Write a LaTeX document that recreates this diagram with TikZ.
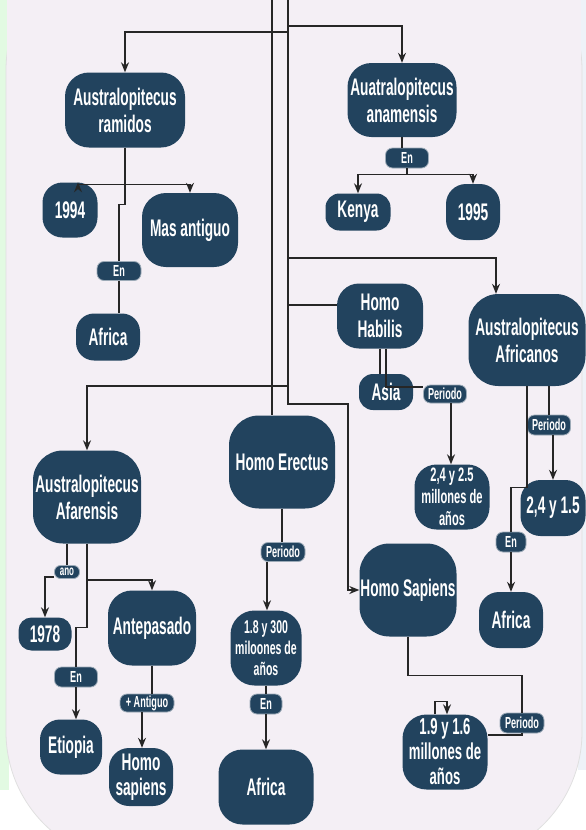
\documentclass[tikz,border=0pt]{standalone}
\usepackage{fontspec}
\setmainfont{Liberation Sans}[FakeStretch=0.57]
\usetikzlibrary{arrows.meta}
\definecolor{nodeblue}{HTML}{22435E}
\definecolor{paper}{HTML}{F4EFF5}
\definecolor{edgegreen}{HTML}{E2FAE2}
\definecolor{edgeblue}{HTML}{EEF2F8}
\tikzset{
  concept/.style={fill=nodeblue,text=white,rounded corners=24pt,align=center,inner sep=0pt,
    font=\fontsize{24}{27}\selectfont\bfseries},
  tag/.style={fill=nodeblue,text=white,rounded corners=7pt,draw=nodeblue!45,line width=0.8pt,
    inner sep=0pt,minimum height=19pt,font=\fontsize{16}{16}\selectfont\bfseries},
  sz/.style 2 args={minimum width=#1pt,minimum height=#2pt},
  link/.style={draw=black!85,line width=1.3pt},
  tip/.style={-{Stealth[length=10pt,width=8pt]}}
}
\begin{document}
\begin{tikzpicture}[x=1pt,y=-1pt]
\useasboundingbox (0,0) rectangle (586,830);
% background
\fill[white] (0,0) rectangle (586,830);
\fill[edgegreen] (0,0) rectangle (9,790);
\fill[edgeblue] (578,0) rectangle (586,770);
\filldraw[fill=paper,draw=black!12,line width=0.8pt,rounded corners=130pt] (6,-60) rectangle (582,862);
\fill[paper] (7,-10) rectangle (581,100);

\coordinate (trunkL) at (272,0);
\coordinate (trunkR) at (288,0);

\node[concept,sz={120}{75}] (ramidos) at (125,110) {Australopitecus\\ramidos};
\node[concept,sz={109}{74}] (anamensis) at (402,100) {Auatralopitecus\\anamensis};
\node[tag,sz={43}{20}] (enA) at (407,158) {En};
\node[concept,sz={65}{37},rounded corners=14pt] (kenya) at (358,212) {Kenya};
\node[concept,sz={54}{56},rounded corners=20pt] (y1995) at (473,212) {1995};
\node[concept,sz={55}{55},rounded corners=20pt] (y1994) at (70,210) {1994};
\node[concept,sz={96}{74}] (masant) at (190,230) {Mas antiguo};
\node[tag,sz={44}{19}] (enR) at (119,271) {En};
\node[concept,sz={64}{47},rounded corners=18pt] (africaR) at (108,337) {Africa};

\node[concept,sz={86}{65},rounded corners=22pt] (habilis) at (380,316) {Homo\\Habilis};
\node[concept,sz={117}{92},rounded corners=30pt] (africanos) at (527,340) {Australopitecus\\Africanos};
\node[concept,sz={54}{36},rounded corners=14pt] (asia) at (386,392) {Asia};
\node[tag,sz={43}{18}] (perH) at (445,394) {Periodo};
\node[tag,sz={43}{20}] (perA) at (549,425) {Periodo};
\node[concept,sz={75}{65},rounded corners=22pt,font=\fontsize{19.5}{22}\selectfont\bfseries] (dosH) at (452,497) {2,4 y 2.5\\millones de\\años};
\node[concept,sz={65}{56},rounded corners=20pt] (dosA) at (553,508) {2,4 y 1.5};
\node[tag,sz={30}{20}] (enAf) at (511,542) {En};
\node[concept,sz={64}{56},rounded corners=20pt] (africaA) at (511,620) {Africa};

\node[concept,sz={108}{93},rounded corners=30pt] (afarensis) at (87,497) {Australopitecus\\Afarensis};
\node[concept,sz={106}{93},rounded corners=30pt] (erectus) at (282,462) {Homo Erectus};
\node[tag,sz={44}{19}] (perE) at (283,552) {Periodo};
\node[concept,sz={97}{93},rounded corners=30pt] (sapiens) at (408,590) {Homo Sapiens};
\node[concept,sz={71}{75},rounded corners=24pt,font=\fontsize{18.5}{21}\selectfont\bfseries] (unoE) at (266,648) {1.8 y 300\\miloones de\\años};
\node[tag,sz={32}{20}] (enE) at (266,704) {En};
\node[concept,sz={95}{75}] (africaE) at (266,787) {Africa};

\node[tag,sz={25}{13},rounded corners=6pt,font=\fontsize{14}{14}\selectfont\bfseries] (ano) at (67,572) {ano};
\node[concept,sz={53}{33},rounded corners=13pt] (y1978) at (45,634) {1978};
\node[concept,sz={88}{75}] (antep) at (152,628) {Antepasado};
\node[tag,sz={43}{20}] (enF) at (76,677) {En};
\node[tag,sz={54}{18}] (antig) at (147,703) {+ Antiguo};
\node[concept,sz={62}{55},rounded corners=20pt] (etiopia) at (71,747) {Etiopia};
\node[concept,sz={64}{58},rounded corners=20pt,font=\fontsize{24}{25}\selectfont\bfseries] (hsap) at (141,777) {Homo\\sapiens};
\node[tag,sz={44}{20}] (perS) at (522,723) {Periodo};
\node[concept,sz={85}{75},rounded corners=24pt,font=\fontsize{23}{25}\selectfont\bfseries] (unoS) at (445,752) {1.9 y 1.6\\millones de\\años};

% trunks
\draw[link] (trunkL) -- (trunkL |- erectus.north);
\draw[link,tip] (trunkR) -- ++(0,404) -- (348,404) |- (sapiens.west);
\draw[link,tip] (trunkL |- 0,32) -- (trunkR |- 0,32) (trunkL |- 0,32) -| (ramidos.north);
\draw[link,tip] (trunkR |- 0,26) -| (anamensis.north);
\draw[link,tip] (trunkR |- 0,258) -| ([xshift=-31pt]africanos.north);
\draw[link] (trunkR |- 0,305) -- (habilis.west |- 0,305);
\draw[link,tip] (trunkR |- 0,386) -| (afarensis.north);

% ramidos
\draw[link] (ramidos.south) -- ++(0,37) coordinate (rj);
\draw[link,tip] (rj) -| ([xshift=8pt]y1994.north);
\draw[link,tip] (rj) -| (masant.north);
\draw[link] (rj) -- ++(0,20) -| (enR.north);
\draw[link] (enR.south) -- (enR.south |- africaR.north);

% anamensis
\draw[link] (anamensis.south) -- (anamensis.south |- enA.north);
\draw[link] (enA.south) -- ++(0,6) coordinate (aj);
\draw[link,tip] (aj) -| (kenya.north);
\draw[link,tip] (aj) -| (y1995.north);

% habilis
\draw[link] (habilis.south) -- (habilis.south |- asia.north);
\draw[link] ([xshift=6pt]habilis.south) |- ([yshift=7pt]perH.west);
\draw[link,tip] ([xshift=6pt]perH.south) -- ([xshift=6pt]perH.south |- dosH.north);

% africanos
\draw[link] ([xshift=22pt]africanos.south) -- (perA.north);
\draw[link,tip] ([xshift=4pt]perA.south) -- ([xshift=4pt]perA.south |- dosA.north);
\draw[link] (africanos.south) -- ++(0,101) -| (enAf.north);
\draw[link,tip] (enAf.south) -- (africaA.north);

% afarensis
\draw[link] ([xshift=-20pt]afarensis.south) -- (ano.north);
\draw[link,tip] ([yshift=-5pt]ano.west) -| (y1978.north);
\draw[link] (afarensis.south) -- ++(0,84) -| (enF.north);
\draw[link,tip] (afarensis.south |- 0,580) -| (antep.north);
\draw[link,tip] (enF.south) -- (enF.south |- etiopia.north);
\draw[link] (antep.south) -- (antep.south |- antig.north);
\draw[link,tip] ([xshift=-5pt]antig.south) -- ([xshift=-5pt]antig.south |- hsap.north);

% erectus
\draw[link] (erectus.south) -- (erectus.south |- perE.north);
\draw[link,tip] ([xshift=-16pt]perE.south) -- ([xshift=-16pt]perE.south |- unoE.north);
\draw[link] (unoE.south) -- (enE.north);
\draw[link,tip] (enE.south) -- (africaE.north);

% sapiens
\draw[link] (sapiens.south) -- ++(0,39) -| (perS.north);
\draw[link] (perS.south) |- ([yshift=17pt]unoS.east);
\draw[link,tip] ([xshift=-10pt]unoS.north) -- ++(0,-13) -- ++(12,0) -- ++(0,13);
\end{tikzpicture}
\end{document}
